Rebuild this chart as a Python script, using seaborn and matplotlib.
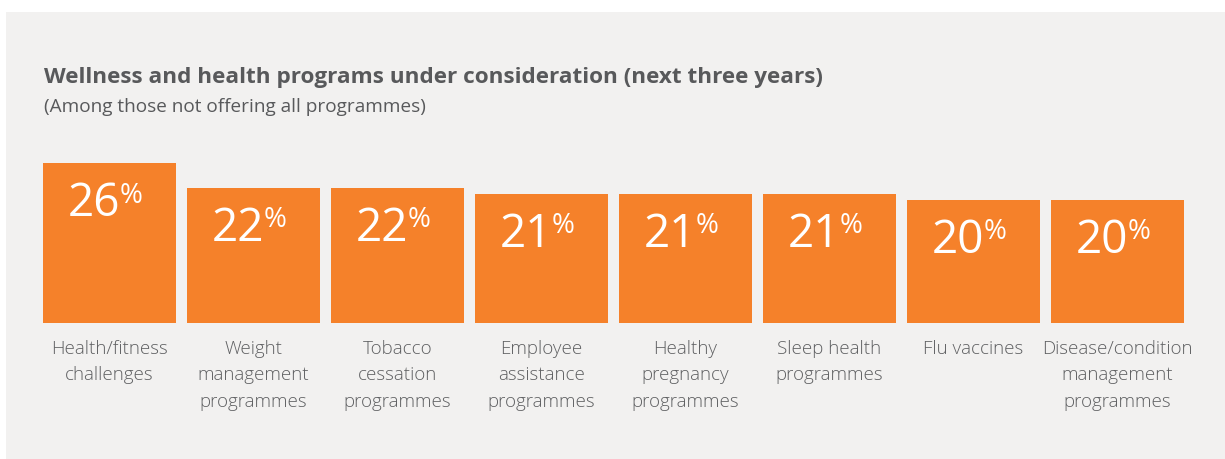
import matplotlib
matplotlib.use("Agg")
import matplotlib.pyplot as plt
from matplotlib.patches import Rectangle
import pandas as pd
import seaborn as sns

# Survey results: share of employers considering each programme
programs = [
    "Health/fitness\nchallenges",
    "Weight\nmanagement\nprogrammes",
    "Tobacco\ncessation\nprogrammes",
    "Employee\nassistance\nprogrammes",
    "Healthy\npregnancy\nprogrammes",
    "Sleep health\nprogrammes",
    "Flu vaccines",
    "Disease/condition\nmanagement\nprogrammes",
]
shares = [26, 22, 22, 21, 21, 21, 20, 20]

title = "Wellness and health programs under consideration (next three years)"
subtitle = "(Among those not offering all programmes)"

ORANGE = "#f5812a"
PANEL = "#f2f1f0"
TITLE_GREY = "#58595b"
LABEL_GREY = "#5f6062"

sns.set_theme(style="white")
plt.rcParams["font.family"] = ["Open Sans", "DejaVu Sans"]

W, H = 1225, 459
fig = plt.figure(figsize=(W / 100, H / 100), dpi=100, facecolor="white")

# light grey card behind the chart
fig.patches.append(Rectangle((6 / W, 0), 1 - 6 / W, 1 - 12 / H,
                             transform=fig.transFigure, facecolor=PANEL,
                             edgecolor="none", zorder=-10))

ax_bottom = (H - 322.5) / H
ax = fig.add_axes([37.5 / W, ax_bottom, 1152 / W, 184 / H])
ax.set_facecolor("none")
ax.set_zorder(1)

df = pd.DataFrame({"program": programs, "share": shares})
sns.barplot(data=df, x="program", y="share", color=ORANGE, saturation=1,
            width=0.924, edgecolor="none", ax=ax)

ax.set_xlim(-0.5, len(programs) - 0.5)
ax.set_ylim(0, 30)
ax.set_xlabel("")
ax.set_ylabel("")
ax.set_yticks([])
sns.despine(ax=ax, left=True, bottom=True)
ax.tick_params(axis="x", length=0, pad=12.5, labelsize=13.5, labelcolor=LABEL_GREY)
for lab in ax.get_xticklabels():
    lab.set_linespacing(1.6)
    lab.set_multialignment("center")
    lab.set_fontweight("light")

# value labels: large number with a smaller raised percent sign
for i, v in enumerate(shares):
    ax.annotate(f"{v}", xy=(i, v), xytext=(11, -53), textcoords="offset pixels",
                ha="right", va="baseline", fontsize=33, color="white")
    ax.annotate("%", xy=(i, v), xytext=(10, -39.5), textcoords="offset pixels",
                ha="left", va="baseline", fontsize=20, color="white")

fig.text(44 / W, 1 - 83 / H, title, ha="left", va="baseline",
         fontsize=16.2, fontweight="bold", color=TITLE_GREY)
fig.text(44 / W, 1 - 111.5 / H, subtitle, ha="left", va="baseline",
         fontsize=13.7, color=TITLE_GREY)

fig.savefig("out.png", dpi=100, facecolor="white")
